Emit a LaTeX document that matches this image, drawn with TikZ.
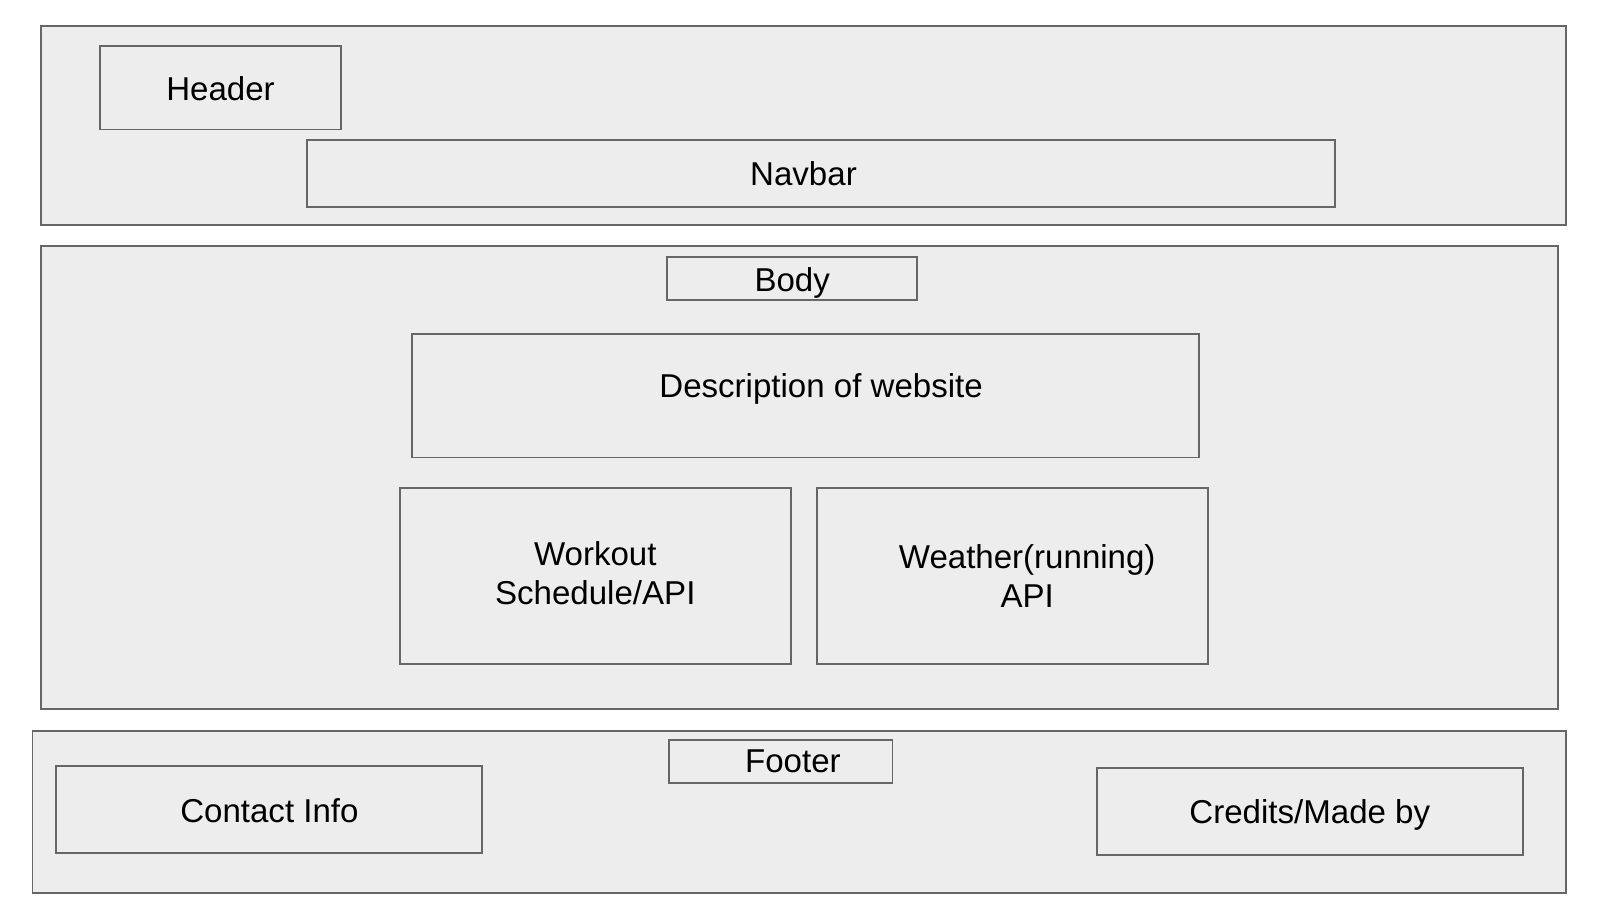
\documentclass[tikz,border=0pt]{standalone}
\usepackage{fontspec}
\setmainfont{Liberation Sans}

\tikzset{
	block/.style={draw=black!60, fill=black!7, line width=0.55pt, inner sep=0pt, align=center},
	shifted/.style={align=center, inner sep=0pt}
}

\begin{document}
\begin{tikzpicture}[x=0.01cm, y=-0.01cm, font=\fontsize{9.4}{11.1}\selectfont]
			\useasboundingbox (0,0) rectangle (1612,919);

			% header area
			\draw (803.5,125.5) node (top) [block, minimum width=15.247cm, minimum height=1.995cm] {};
			\draw (220.5,87.9) node (header) [block, minimum width=2.416cm, minimum height=0.832cm, label={[shifted, yshift=-0.01cm]center:Header}] {};
			\draw (821,173.2) node (navbar) [block, minimum width=10.271cm, minimum height=0.668cm, label={[shifted, xshift=-0.175cm]center:Navbar}] {};

			% body area
			\draw (799.4,477.1) node (bodyarea) [block, minimum width=15.165cm, minimum height=4.627cm] {};
			\draw (792.2,278.6) node (bodytitle) [block, minimum width=2.499cm, minimum height=0.432cm, label={[shifted, yshift=-0.04cm]center:Body}] {};
			\draw (805.6,395.8) node (description) [block, minimum width=7.865cm, minimum height=1.234cm, label={[shifted, xshift=0.155cm, yshift=0.07cm]center:Description of website}] {};
			\draw (595.3,576.3) node (workout) [block, minimum width=3.907cm, minimum height=1.759cm, label={[shifted, yshift=0.035cm]center:Workout\\Schedule/API}] {};
			\draw (1012.7,576.3) node (weather) [block, minimum width=3.907cm, minimum height=1.759cm, label={[shifted, xshift=0.145cm]center:Weather(running)\\API}] {};

			% footer area
			\draw (799.4,812.2) node (footerarea) [block, minimum width=15.329cm, minimum height=1.624cm] {};
			\draw (780.9,761.8) node (footertitle) [block, minimum width=2.231cm, minimum height=0.432cm, label={[shifted, xshift=0.12cm, yshift=0.01cm]center:Footer}] {};
			\draw (269.4,809.6) node (contact) [block, minimum width=4.257cm, minimum height=0.874cm, label={[shifted, yshift=-0.01cm]center:Contact Info}] {};
			\draw (1309.8,811.7) node (credits) [block, minimum width=4.256cm, minimum height=0.874cm, label={[shifted, yshift=-0.03cm]center:Credits/Made by}] {};
\end{tikzpicture}
\end{document}
